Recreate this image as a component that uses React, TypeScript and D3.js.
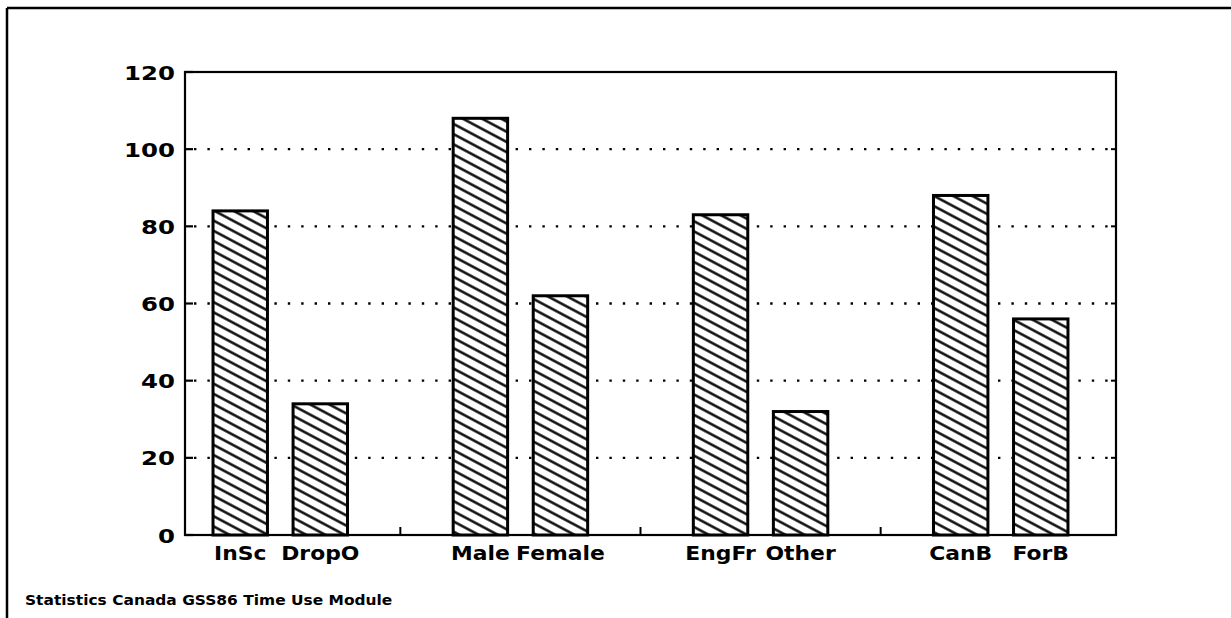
import React from "react";
import * as d3 from "d3";

const categories = ["InSc", "DropO", "Male", "Female", "EngFr", "Other", "CanB", "ForB"];
const values = [84, 34, 108, 62, 83, 32, 88, 56];
const yTicks = [0, 20, 40, 60, 80, 100, 120];
const gridValues = [20, 40, 60, 80, 100];
const footer = "Statistics Canada GSS86 Time Use Module";

const W = 1231;
const H = 618;
const plot = { left: 185, right: 1116, top: 72, bottom: 535 };

// slot index: two bars per group with an empty slot between groups
const slotOf = (i: number) => Math.floor(i / 2) * 3 + (i % 2);
const groupCount = Math.ceil(categories.length / 2);
const separators = d3.range(1, groupCount).map((g) => g * 3 - 1);

const x = d3.scaleLinear().domain([-0.69, 10.94]).range([plot.left, plot.right]);
const y = d3.scaleLinear().domain([0, 120]).range([plot.bottom, plot.top]);
const barW = x(0.68) - x(0);

const FONT = "'DejaVu Sans', Verdana, sans-serif";

export default function App() {
  return (
    <svg
      width={W}
      height={H}
      viewBox={`0 0 ${W} ${H}`}
      style={{ position: "absolute", left: 0, top: 0, background: "#fff" }}
    >
      <defs>
        <pattern
          id="hatch"
          patternUnits="userSpaceOnUse"
          width={10}
          height={9}
          patternTransform="rotate(28)"
        >
          <rect x={0} y={0} width={10} height={9} fill="#fff" />
          <line x1={-1} y1={4.5} x2={11} y2={4.5} stroke="#000" strokeWidth={2.4} />
        </pattern>
      </defs>
      <rect x={0} y={0} width={W} height={H} fill="#fff" />

      {/* outer frame */}
      <line x1={7} y1={8} x2={W} y2={8} stroke="#000" strokeWidth={2.5} />
      <line x1={7} y1={8} x2={7} y2={H} stroke="#000" strokeWidth={2.5} />

      {/* dotted gridlines */}
      {gridValues.map((v) => (
        <line
          key={"g" + v}
          x1={plot.left + 9}
          x2={plot.right}
          y1={y(v)}
          y2={y(v)}
          stroke="#000"
          strokeWidth={2.4}
          strokeDasharray="2.4 11"
        />
      ))}

      {/* plot frame */}
      <rect
        x={plot.left}
        y={plot.top}
        width={plot.right - plot.left}
        height={plot.bottom - plot.top}
        fill="none"
        stroke="#000"
        strokeWidth={2.2}
      />

      {/* y ticks and labels */}
      {yTicks.map((v) => (
        <g key={"t" + v}>
          <line x1={plot.left} x2={plot.left + 8} y1={y(v)} y2={y(v)} stroke="#000" strokeWidth={2.2} />
          <line x1={plot.right - 5} x2={plot.right} y1={y(v)} y2={y(v)} stroke="#000" strokeWidth={2} />
          <g transform={`translate(${plot.left - 10},${y(v) + 7.5}) scale(1.22,1)`}>
            <text textAnchor="end" fontFamily={FONT} fontWeight="bold" fontSize={20} fill="#000">
              {v}
            </text>
          </g>
        </g>
      ))}

      {/* group separator ticks */}
      {separators.map((s) => (
        <line
          key={"s" + s}
          x1={x(s)}
          x2={x(s)}
          y1={plot.bottom}
          y2={plot.bottom - 8}
          stroke="#000"
          strokeWidth={2}
        />
      ))}

      {/* bars */}
      {values.map((v, i) => {
        const cx = x(slotOf(i));
        return (
          <rect
            key={"b" + i}
            x={cx - barW / 2}
            y={y(v)}
            width={barW}
            height={y(0) - y(v)}
            fill="url(#hatch)"
            stroke="#000"
            strokeWidth={3}
          />
        );
      })}

      {/* category labels */}
      {categories.map((c, i) => (
        <g key={"c" + i} transform={`translate(${x(slotOf(i))},${plot.bottom + 25}) scale(1.15,1)`}>
          <text textAnchor="middle" fontFamily={FONT} fontWeight="bold" fontSize={19} fill="#000">
            {c}
          </text>
        </g>
      ))}

      {/* footer */}
      <g transform={`translate(25,605) scale(1.17,1)`}>
        <text fontFamily={FONT} fontWeight="bold" fontSize={13.2} fill="#000">
          {footer}
        </text>
      </g>
    </svg>
  );
}
